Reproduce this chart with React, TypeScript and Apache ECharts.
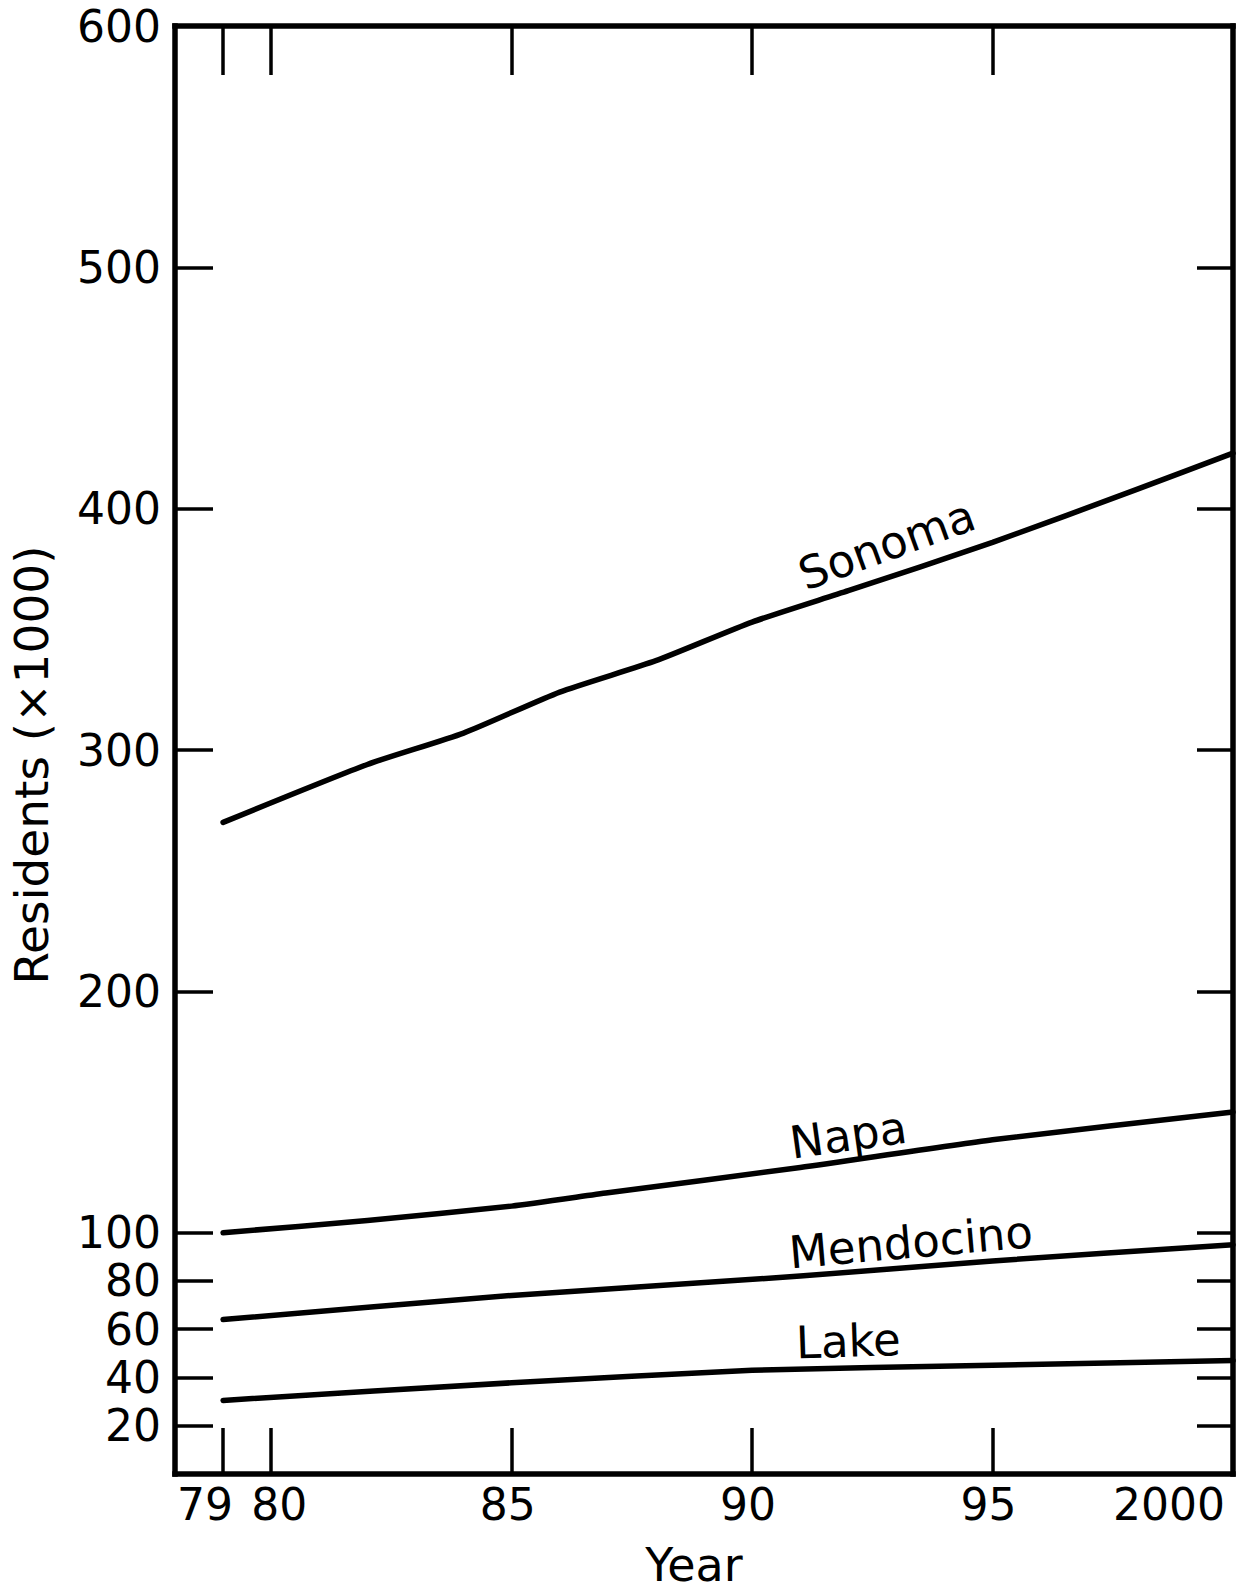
import React, { useEffect, useRef } from "react";
import * as echarts from "echarts";

// ---- data ----
const sonomaYears = [1979, 1982, 1984, 1986, 1988, 1990, 1992, 1995, 1998, 2000];
const sonomaValues = [270, 294, 307, 324, 337, 353, 366, 386, 408, 423];

const napaYears = [1979, 1982, 1985, 1987, 1991, 1995, 2000];
const napaValues = [100, 105, 111, 116.5, 127, 138.5, 150];

const mendocinoYears = [1979, 1985, 1991, 1995, 2000];
const mendocinoValues = [64, 74, 82, 88.3, 95];

const lakeYears = [1979, 1985, 1990, 1995, 2000];
const lakeValues = [30.5, 37.8, 43, 45.1, 47];

const xTickValues = [1979, 1980, 1985, 1990, 1995];
const xLabelValues = [1979, 1980, 1985, 1990, 1995, 2000];
const yTickValues = [20, 40, 60, 80, 100, 200, 300, 400, 500];
const yLabelValues = [20, 40, 60, 80, 100, 200, 300, 400, 500, 600];

// label anchors in data coordinates (year, residents) and text angle (deg)
const labelNames = ["Sonoma", "Napa", "Mendocino", "Lake"];
const labelYears = [1992.8, 1992.0, 1993.3, 1992.0];
const labelValues = [385, 140.4, 96, 55];
const labelAngles = [20, 8, 5, 2];

const zip = (xs: number[], ys: number[]) => xs.map((x, i) => [x, ys[i]]);

const FONT = "'DejaVu Sans', 'Liberation Sans', sans-serif";

export default function App() {
  const ref = useRef<HTMLDivElement>(null);

  useEffect(() => {
    if (!ref.current) return;
    const chart = echarts.init(ref.current, undefined, { renderer: "svg" });

    const axisLineStyle = { color: "#000", width: 5.5, cap: "square" as const };
    const tickStyle = { color: "#000", width: 3.5 };

    const xLabelFormatter = (v: number) => {
      if (v === 1979) return "{a|79}";
      if (v === 1980) return "{b|80}";
      if (v === 2000) return "{c|2000}";
      return "{c|" + String(v - 1900) + "}";
    };
    const labelRich = {
      a: { fontSize: 44, fontFamily: FONT, color: "#000", padding: [0, 36, 0, 0] },
      b: { fontSize: 44, fontFamily: FONT, color: "#000", padding: [0, 0, 0, 16] },
      c: { fontSize: 44, fontFamily: FONT, color: "#000", padding: [0, 8, 0, 0] },
    };

    const seriesLine = (name: string, data: number[][]) => ({
      name,
      type: "line",
      data,
      xAxisIndex: 0,
      yAxisIndex: 0,
      showSymbol: false,
      symbol: "none",
      smooth: 0.2,
      lineStyle: { color: "#000", width: 5.5, cap: "round", join: "round" },
      z: 3,
    });

    const option: any = {
      animation: false,
      backgroundColor: "#fff",
      grid: { left: 174, right: 14, top: 26, bottom: 118, containLabel: false },
      xAxis: [
        {
          type: "value",
          position: "bottom",
          min: 1978,
          max: 2000,
          name: "Year",
          nameLocation: "middle",
          nameGap: 68,
          nameTextStyle: {
            fontSize: 46,
            fontFamily: FONT,
            color: "#000",
            padding: [0, 20, 0, 0],
          },
          axisLine: { show: true, onZero: false, lineStyle: axisLineStyle },
          axisTick: {
            show: true,
            inside: true,
            length: 46,
            lineStyle: tickStyle,
            customValues: xTickValues,
          },
          axisLabel: {
            show: true,
            margin: 8,
            customValues: xLabelValues,
            formatter: xLabelFormatter,
            rich: labelRich,
            fontSize: 44,
            fontFamily: FONT,
            color: "#000",
            alignMaxLabel: "right",
          },
          splitLine: { show: false },
        },
        {
          type: "value",
          position: "top",
          min: 1978,
          max: 2000,
          axisLine: { show: true, onZero: false, lineStyle: axisLineStyle },
          axisTick: {
            show: true,
            inside: true,
            length: 49,
            lineStyle: tickStyle,
            customValues: xTickValues,
          },
          axisLabel: { show: false },
          splitLine: { show: false },
        },
      ],
      yAxis: [
        {
          type: "value",
          position: "left",
          min: 0,
          max: 600,
          name: "Residents (×1000)",
          nameLocation: "middle",
          nameGap: 120,
          nameTextStyle: {
            fontSize: 47,
            fontFamily: FONT,
            color: "#000",
            padding: [0, 30, 0, 0],
          },
          axisLine: { show: true, onZero: false, lineStyle: axisLineStyle },
          axisTick: {
            show: true,
            inside: true,
            length: 38,
            lineStyle: tickStyle,
            customValues: yTickValues,
          },
          axisLabel: {
            show: true,
            margin: 14,
            customValues: yLabelValues,
            fontSize: 44,
            fontFamily: FONT,
            color: "#000",
          },
          splitLine: { show: false },
        },
        {
          type: "value",
          position: "right",
          min: 0,
          max: 600,
          axisLine: { show: true, onZero: false, lineStyle: axisLineStyle },
          axisTick: {
            show: true,
            inside: true,
            length: 36,
            lineStyle: tickStyle,
            customValues: yTickValues,
          },
          axisLabel: { show: false },
          splitLine: { show: false },
        },
      ],
      series: [
        seriesLine("Sonoma", zip(sonomaYears, sonomaValues)),
        seriesLine("Napa", zip(napaYears, napaValues)),
        seriesLine("Mendocino", zip(mendocinoYears, mendocinoValues)),
        seriesLine("Lake", zip(lakeYears, lakeValues)),
      ],
    };

    chart.setOption(option);

    const graphics = labelNames.map((name, i) => {
      const p = chart.convertToPixel({ xAxisIndex: 0, yAxisIndex: 0 }, [
        labelYears[i],
        labelValues[i],
      ]) as number[];
      return {
        type: "text",
        x: p[0],
        y: p[1],
        rotation: (labelAngles[i] * Math.PI) / 180,
        z: 10,
        style: {
          text: name,
          fontSize: 45,
          fontFamily: FONT,
          fill: "#000",
          align: "center",
          verticalAlign: "middle",
          textAlign: "center",
          textVerticalAlign: "middle",
        },
      };
    });
    chart.setOption({ graphic: graphics });

    return () => chart.dispose();
  }, []);

  return (
    <div
      ref={ref}
      style={{ position: "absolute", left: 0, top: 0, width: 1247, height: 1593, background: "#fff" }}
    />
  );
}
